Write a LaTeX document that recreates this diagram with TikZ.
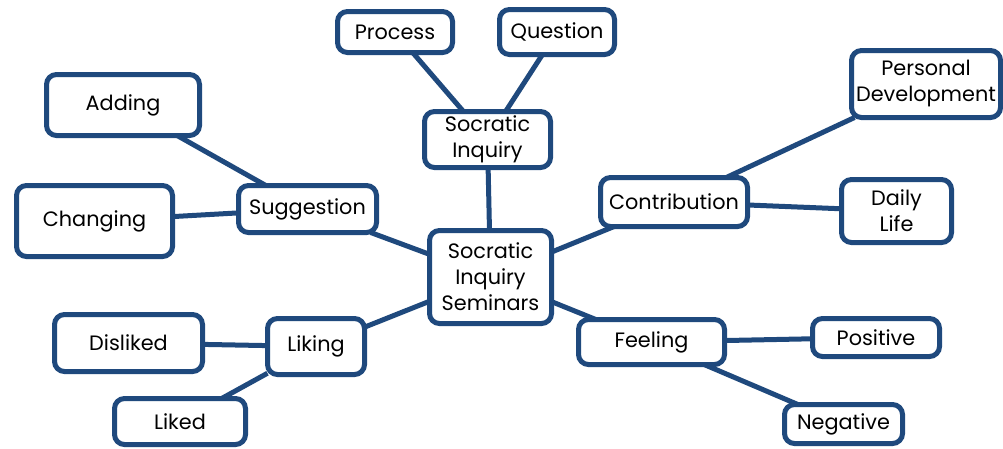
\documentclass[tikz,border=0pt]{standalone}
\usepackage{fontspec}
\setmainfont{Poppins}
\definecolor{boxblue}{HTML}{1F497D}
\tikzset{
  box/.style={draw=boxblue, line width=5pt, rounded corners=10pt, fill=white,
    inner sep=0pt, outer sep=0pt, align=center,
    font=\fontsize{20.8}{26}\selectfont},
  link/.style={draw=boxblue, line width=5pt}
}
\begin{document}
\begin{tikzpicture}[x=1pt,y=-1pt]
\useasboundingbox (0,0) rectangle (1003,448);
\node[box, minimum width=122, minimum height=93] (central) at (490.5,277) {Socratic\\Inquiry\\Seminars};
\node[box, minimum width=126, minimum height=56] (socinq) at (487.5,139.5) {Socratic\\Inquiry};
\node[box, minimum width=115, minimum height=41] (proc) at (395,32) {Process};
\node[box, minimum width=115, minimum height=45] (ques) at (557,32) {Question};
\node[box, minimum width=138, minimum height=47] (sugg) at (307.5,209) {Suggestion};
\node[box, minimum width=153, minimum height=61] (adding) at (123,105) {Adding};
\node[box, minimum width=156, minimum height=71] (chang) at (94.5,221) {Changing};
\node[box, minimum width=147, minimum height=49] (contr) at (674,202) {Contribution};
\node[box, minimum width=149, minimum height=67] (pd) at (926,84) {Personal\\Development};
\node[box, minimum width=110, minimum height=63] (daily) at (896.5,211) {Daily\\Life};
\node[box, minimum width=97, minimum height=56] (liking) at (316,346.5) {Liking};
\node[box, minimum width=148, minimum height=57] (disliked) at (128.5,343) {Disliked};
\node[box, minimum width=131, minimum height=46] (liked) at (180,421.5) {Liked};
\node[box, minimum width=146, minimum height=45] (feeling) at (651.5,342) {Feeling};
\node[box, minimum width=127, minimum height=38] (positive) at (876,337.5) {Positive};
\node[box, minimum width=118, minimum height=39] (negative) at (843.5,424) {Negative};
\draw[link] (proc) -- (socinq);
\draw[link] (ques) -- (socinq);
\draw[link] (socinq) -- (central);
\draw[link] (adding) -- (sugg);
\draw[link] (chang) -- (sugg);
\draw[link] (sugg) -- (central);
\draw[link] (disliked) -- (liking);
\draw[link] (liked) -- (liking);
\draw[link] (liking) -- (central);
\draw[link] (contr) -- (central);
\draw[link] (contr) -- (pd);
\draw[link] (contr) -- (daily);
\draw[link] (central) -- (feeling);
\draw[link] (feeling) -- (positive);
\draw[link] (feeling) -- (negative);
\end{tikzpicture}
\end{document}
